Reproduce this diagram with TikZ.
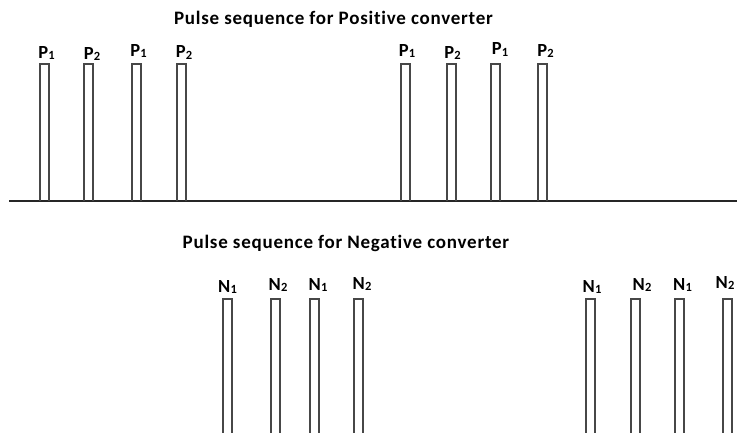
\documentclass[tikz,border=0pt]{standalone}
\usepackage{fontspec}
\setmainfont[Ligatures=NoCommon]{Carlito}
\newfontfamily\headfont[Ligatures=NoCommon,LetterSpace=4]{Carlito}
\begin{document}
\begin{tikzpicture}[x=1pt,y=-1pt,
  pulse/.style={draw=black!72, line width=1.1pt},
  axisline/.style={draw=black!85, line width=1.4pt},
  title/.style={font=\headfont\fontsize{19}{22}\selectfont\bfseries, inner sep=0pt},
  plabel/.style={font=\headfont\fontsize{18.5}{20}\selectfont\bfseries, inner sep=0pt, anchor=base}]
\useasboundingbox (0,0) rectangle (737,432);
\newcommand{\lbl}[2]{#1\kern0.3pt{\fontsize{12.5}{13}\selectfont\raisebox{-1.8pt}{#2}}}

% titles
\node[title] (ptitle) at (333.5,19) {Pulse sequence for Positive converter};
\node[title] (ntitle) at (346,243) {Pulse sequence for Negative converter};

% time axis of the positive converter
\draw[axisline] (9,201) -- (737,201);

% positive converter pulses: left edge x, top at 64, on the axis
\foreach \x in {40,84,132,177,401,447,491,538}
  \draw[pulse] (\x,201) -- (\x,64) -- (\x+9,64) -- (\x+9,201);

\node[plabel] (p1a) at (46.5,58) {\lbl{P}{1}};
\node[plabel] (p2a) at (92,59) {\lbl{P}{2}};
\node[plabel] (p1b) at (138.5,56) {\lbl{P}{1}};
\node[plabel] (p2b) at (184,57.5) {\lbl{P}{2}};
\node[plabel] (p1c) at (407,56) {\lbl{P}{1}};
\node[plabel] (p2c) at (452.5,58) {\lbl{P}{2}};
\node[plabel] (p1d) at (500,54.5) {\lbl{P}{1}};
\node[plabel] (p2d) at (545.5,56) {\lbl{P}{2}};

% negative converter pulses, running off the lower edge
\foreach \x in {223,271,310,354,586,631,675,723}
  \draw[pulse] (\x,433) -- (\x,299) -- (\x+9,299) -- (\x+9,433);

\node[plabel] (n1a) at (227.5,292) {\lbl{N}{1}};
\node[plabel] (n2a) at (278,290) {\lbl{N}{2}};
\node[plabel] (n1b) at (318,290) {\lbl{N}{1}};
\node[plabel] (n2b) at (362,289) {\lbl{N}{2}};
\node[plabel] (n1c) at (592,292) {\lbl{N}{1}};
\node[plabel] (n2c) at (642,290) {\lbl{N}{2}};
\node[plabel] (n1d) at (682.5,290) {\lbl{N}{1}};
\node[plabel] (n2d) at (725,288) {\lbl{N}{2}};
\end{tikzpicture}
\end{document}
